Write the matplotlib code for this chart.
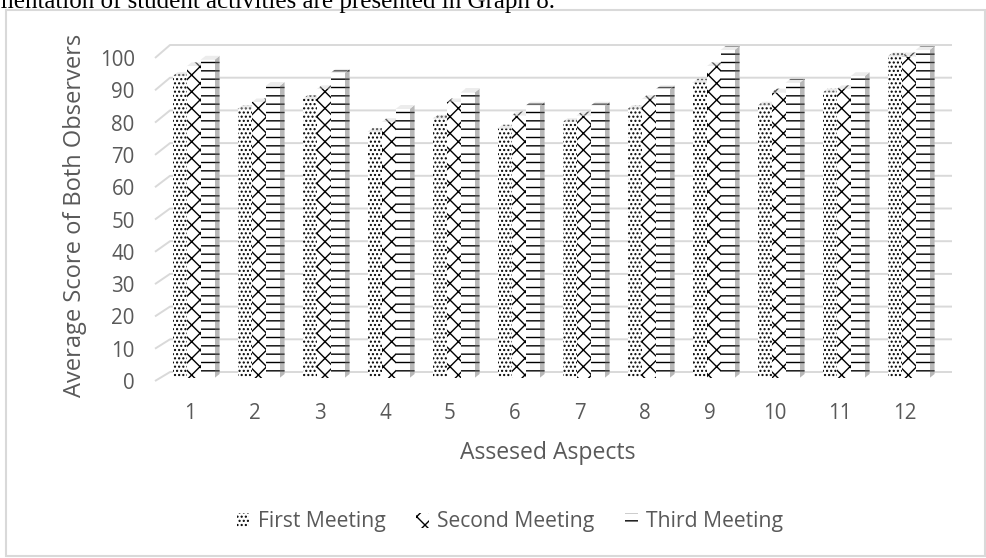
import numpy as np
import matplotlib
matplotlib.use("Agg")
import matplotlib.pyplot as plt
from matplotlib.patches import Polygon, Patch, Rectangle

aspects = [str(i) for i in range(1, 13)]
first_meeting = [92, 82, 85, 75, 79, 76, 78, 82, 90, 83, 87, 98]
second_meeting = [95, 84, 88, 78, 84, 80, 80, 85, 95, 87, 88, 98]
third_meeting = [97, 89, 93, 82, 87, 83, 83, 88, 100, 90, 92, 100]
series_names = ["First Meeting", "Second Meeting", "Third Meeting"]
y_ticks = list(range(0, 101, 10))

plt.rcParams["font.family"] = ["Open Sans", "DejaVu Sans"]
plt.rcParams["hatch.linewidth"] = 1.0
grey_text = "#595959"

W, H = 987, 558
fig = plt.figure(figsize=(W / 100, H / 100), dpi=100)

# outer chart frame and the line of body text above it
fig.patches.append(Rectangle((6 / W, 1 - 556 / H), (985 - 6) / W, (556 - 10) / H,
                             transform=fig.transFigure, fill=False,
                             edgecolor="#d9d9d9", linewidth=1.5))
fig.text(555 / W, 1 - 8 / H, "implementation of student activities are presented in Graph 8.",
         ha="right", va="baseline", fontsize=18, family="Liberation Serif", color="black")

# plot area in pixels: x=150..960, y=40..395
ax = fig.add_axes([150 / W, 1 - 395 / H, (960 - 150) / W, (395 - 40) / H])
ax.set_xlim(1 + (150 - 190) / 65, 1 + (960 - 190) / 65)
ax.set_ylim(-17 / 3.28, (378 - 40) / 3.28)
for s in ax.spines.values():
    s.set_visible(False)

def xd(px):
    return 1 + (px - 190) / 65

def yd(py):
    return (378 - py) / 3.28

# back wall gridlines with the slanted left wall segment
front_y = []
for v in y_ticks:
    yf = yd(381 - 3.23 * v)
    yb = yd(372 - 3.27 * v)
    front_y.append(yf)
    ax.plot([xd(155), xd(170), xd(952)], [yf, yb, yb], color="#d9d9d9", lw=1.4, zorder=1,
            solid_capstyle="butt")

x = np.arange(1, 13)
width = 14 / 65
depth_x = 5 / 65
depth_y = 4 / 3.28
hatches = ["....", "xx", "--"]
data = [first_meeting, second_meeting, third_meeting]

for j, (vals, hatch) in enumerate(zip(data, hatches)):
    pos = x + 0.055 + (j - 1) * width
    ax.bar(pos, vals, width=width, color="white", edgecolor="black", linewidth=0,
           hatch=hatch, zorder=3 + j * 2)
    for xc, h in zip(pos, vals):
        xl, xr = xc - width / 2, xc + width / 2
        side = Polygon([(xr, 0), (xr + depth_x, depth_y), (xr + depth_x, h + depth_y), (xr, h)],
                       closed=True, facecolor="#b8b8b8", edgecolor="#303030", linewidth=0,
                       hatch=hatch, zorder=2 + j * 2)
        top = Polygon([(xl, h), (xr, h), (xr + depth_x, h + depth_y), (xl + depth_x, h + depth_y)],
                      closed=True, facecolor="#ececec", edgecolor="#555555", linewidth=0,
                      hatch=hatch, zorder=2 + j * 2)
        ax.add_patch(side)
        ax.add_patch(top)

ax.set_yticks(front_y, [str(v) for v in y_ticks])
ax.set_xticks(x, aspects)
ax.tick_params(axis="both", length=0, labelsize=14.8, labelcolor=grey_text)
ax.tick_params(axis="y", pad=11)
ax.tick_params(axis="x", pad=6)

fig.text(75 / W, 1 - 215 / H, "Average Score of Both Observers", rotation=90,
         ha="center", va="center", fontsize=17, color=grey_text)
fig.text(548 / W, 1 - 453 / H, "Assesed Aspects", ha="center", va="center",
         fontsize=16.6, color=grey_text)

handles = [Patch(facecolor="white", edgecolor="black", linewidth=0, hatch=h) for h in hatches]
fig.legend(handles, series_names, loc="center", bbox_to_anchor=(510 / W, 1 - 522 / H),
           ncol=3, frameon=False, fontsize=15.2, labelcolor=grey_text,
           handlelength=0.6, handleheight=0.7, handletextpad=0.4, columnspacing=1.45)

fig.savefig("out.png", dpi=100)
